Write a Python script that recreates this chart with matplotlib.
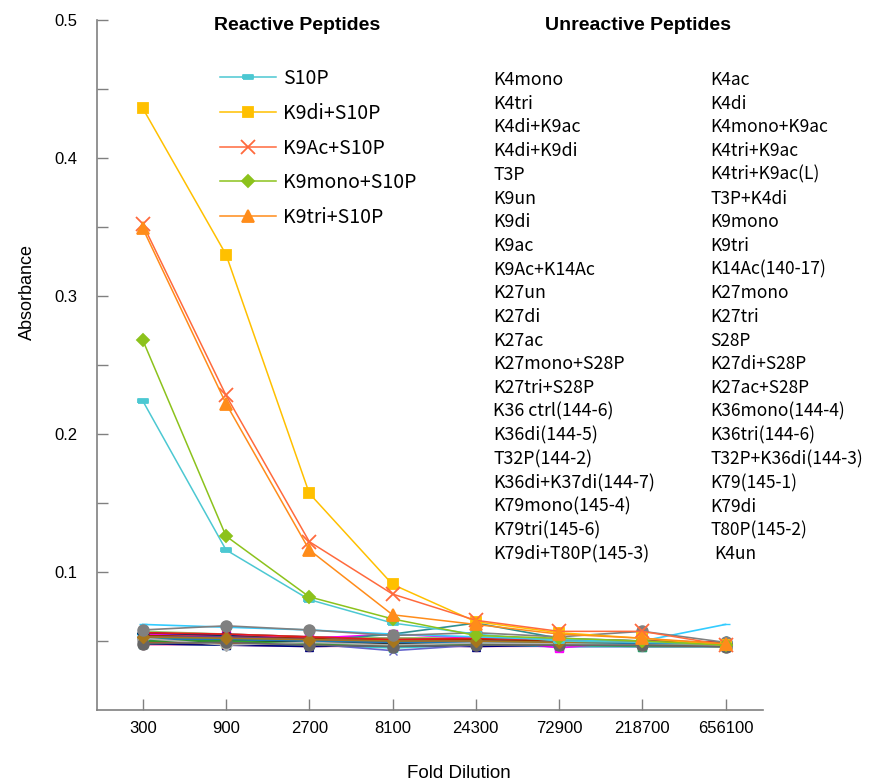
import matplotlib
matplotlib.use("Agg")
import matplotlib.pyplot as plt

# ---------------- data ----------------
dilutions = ["300", "900", "2700", "8100", "24300", "72900", "218700", "656100"]

reactive_names = ["S10P", "K9di+S10P", "K9Ac+S10P", "K9mono+S10P", "K9tri+S10P"]
s10p = [0.224, 0.116, 0.080, 0.063, 0.055, 0.050, 0.049, 0.048]
k9di_s10p = [0.436, 0.330, 0.157, 0.091, 0.064, 0.056, 0.052, 0.047]
k9ac_s10p = [0.352, 0.228, 0.122, 0.084, 0.065, 0.057, 0.057, 0.047]
k9mono_s10p = [0.268, 0.126, 0.082, 0.066, 0.054, 0.052, 0.050, 0.047]
k9tri_s10p = [0.349, 0.222, 0.116, 0.069, 0.062, 0.055, 0.052, 0.048]
reactive_values = [s10p, k9di_s10p, k9ac_s10p, k9mono_s10p, k9tri_s10p]

unreactive_col1 = ["K4mono", "K4tri", "K4di+K9ac", "K4di+K9di", "T3P", "K9un", "K9di", "K9ac",
                   "K9Ac+K14Ac", "K27un", "K27di", "K27ac", "K27mono+S28P", "K27tri+S28P",
                   "K36 ctrl(144-6)", "K36di(144-5)", "T32P(144-2)", "K36di+K37di(144-7)",
                   "K79mono(145-4)", "K79tri(145-6)", "K79di+T80P(145-3)"]
unreactive_col2 = ["K4ac", "K4di", "K4mono+K9ac", "K4tri+K9ac", "K4tri+K9ac(L)", "T3P+K4di",
                   "K9mono", "K9tri", "K14Ac(140-17)", "K27mono", "K27tri", "S28P", "K27di+S28P",
                   "K27ac+S28P", "K36mono(144-4)", "K36tri(144-6)", "T32P+K36di(144-3)",
                   "K79(145-1)", "K79di", "T80P(145-2)", "K4un"]

unreactive_values_col1 = [
    [0.052, 0.051, 0.050, 0.049, 0.050, 0.049, 0.048, 0.048],
    [0.050, 0.049, 0.048, 0.047, 0.049, 0.048, 0.047, 0.047],
    [0.054, 0.053, 0.051, 0.050, 0.051, 0.050, 0.049, 0.048],
    [0.049, 0.048, 0.047, 0.046, 0.048, 0.047, 0.047, 0.046],
    [0.056, 0.055, 0.053, 0.052, 0.052, 0.051, 0.050, 0.049],
    [0.051, 0.050, 0.049, 0.048, 0.049, 0.048, 0.048, 0.047],
    [0.053, 0.052, 0.050, 0.049, 0.050, 0.049, 0.049, 0.048],
    [0.048, 0.048, 0.047, 0.047, 0.047, 0.046, 0.046, 0.046],
    [0.055, 0.054, 0.052, 0.051, 0.051, 0.050, 0.049, 0.049],
    [0.050, 0.050, 0.049, 0.048, 0.048, 0.048, 0.047, 0.047],
    [0.057, 0.055, 0.053, 0.052, 0.053, 0.051, 0.050, 0.049],
    [0.049, 0.049, 0.048, 0.046, 0.047, 0.047, 0.047, 0.046],
    [0.053, 0.052, 0.051, 0.050, 0.050, 0.049, 0.048, 0.048],
    [0.047, 0.047, 0.046, 0.046, 0.046, 0.046, 0.046, 0.046],
    [0.055, 0.053, 0.052, 0.050, 0.051, 0.050, 0.050, 0.049],
    [0.051, 0.051, 0.050, 0.049, 0.049, 0.049, 0.048, 0.048],
    [0.052, 0.052, 0.049, 0.048, 0.050, 0.048, 0.048, 0.047],
    [0.048, 0.047, 0.047, 0.045, 0.047, 0.046, 0.046, 0.046],
    [0.054, 0.052, 0.051, 0.049, 0.050, 0.050, 0.049, 0.048],
    [0.050, 0.049, 0.048, 0.048, 0.048, 0.047, 0.047, 0.047],
    [0.049, 0.050, 0.049, 0.047, 0.048, 0.048, 0.047, 0.047],
]
unreactive_values_col2 = [
    [0.055, 0.054, 0.052, 0.055, 0.052, 0.045, 0.050, 0.048],
    [0.053, 0.051, 0.050, 0.048, 0.049, 0.049, 0.048, 0.047],
    [0.051, 0.052, 0.050, 0.049, 0.050, 0.049, 0.048, 0.048],
    [0.056, 0.054, 0.051, 0.050, 0.050, 0.050, 0.049, 0.048],
    [0.048, 0.048, 0.047, 0.047, 0.047, 0.047, 0.046, 0.046],
    [0.052, 0.050, 0.049, 0.048, 0.049, 0.048, 0.048, 0.047],
    [0.048, 0.047, 0.046, 0.047, 0.046, 0.047, 0.048, 0.047],
    [0.054, 0.053, 0.052, 0.051, 0.051, 0.050, 0.049, 0.049],
    [0.050, 0.049, 0.048, 0.043, 0.047, 0.048, 0.047, 0.047],
    [0.052, 0.052, 0.050, 0.055, 0.063, 0.052, 0.050, 0.048],
    [0.050, 0.049, 0.049, 0.048, 0.049, 0.048, 0.047, 0.047],
    [0.053, 0.053, 0.051, 0.050, 0.050, 0.049, 0.049, 0.048],
    [0.049, 0.048, 0.048, 0.047, 0.048, 0.047, 0.047, 0.046],
    [0.051, 0.051, 0.050, 0.049, 0.049, 0.049, 0.048, 0.048],
    [0.056, 0.055, 0.053, 0.051, 0.052, 0.051, 0.050, 0.049],
    [0.050, 0.050, 0.048, 0.047, 0.048, 0.048, 0.047, 0.047],
    [0.052, 0.047, 0.049, 0.047, 0.0486, 0.048, 0.047, 0.047],
    [0.062, 0.060, 0.058, 0.055, 0.053, 0.051, 0.050, 0.062],
    [0.048, 0.049, 0.047, 0.046, 0.047, 0.047, 0.047, 0.046],
    [0.053, 0.052, 0.051, 0.050, 0.050, 0.049, 0.050, 0.048],
    [0.058, 0.061, 0.058, 0.054, 0.056, 0.053, 0.057, 0.049],
]

y_tick_values = [0.1, 0.2, 0.3, 0.4, 0.5]
y_minor_values = [0.05, 0.15, 0.25, 0.35, 0.45]

# ---------------- styles ----------------
reactive_colors = ["#4cc8d2", "#ffc000", "#ff6a3d", "#8cc21c", "#ff8c1a"]
rect_marker = [(-1, -0.4), (1, -0.4), (1, 0.4), (-1, 0.4), (-1, -0.4)]
reactive_markers = [rect_marker, "s", "x", "D", "^"]
reactive_msizes = [7, 7, 10, 6, 8]

cluster_colors = ["#000080", "#8b1a4a", "#c8c800", "#00c8c8", "#800080", "#800000", "#008080",
                  "#0000ff", "#00ccff", "#66cc99", "#99cc66", "#cc9933", "#99ccff", "#ff99cc",
                  "#cc99ff", "#cc9966", "#3366ff", "#33cccc", "#99cc00", "#e6b800", "#ff9900",
                  "#ff00ff", "#666699", "#969696", "#003366", "#339966", "#003300", "#000080",
                  "#993300", "#6666cc", "#2f8f8f", "#333333", "#6a3d9a", "#b15928", "#1f78b4",
                  "#e31a1c", "#33a02c", "#b0b0b0", "#33ccff", "#666666", "#a6761d", "#808080"]
cluster_markers = ["D", "s", "^", "x", "*", "o", "+", "_",
                   "D", "s", "^", "x", "*", "o", "+", "_",
                   "D", "s", "^", "x", "*", "s", "+", "o",
                   "D", "s", "^", "^", "*", "x", "+", "_",
                   "D", "s", "^", "x", "*", "D", "_", "o",
                   "D", "o"]

# ---------------- figure ----------------
plt.rcParams['font.family'] = ['Liberation Sans', 'DejaVu Sans']
fig = plt.figure(figsize=(8.71, 7.83), dpi=100)
ax = fig.add_axes([97 / 871, 1 - 710 / 783, 666 / 871, 690 / 783])

xpos = list(range(len(dilutions)))
all_unreactive = unreactive_values_col1 + unreactive_values_col2
for i, vals in enumerate(all_unreactive):
    m = cluster_markers[i]
    c = cluster_colors[i]
    ms = 8 if c in ("#808080", "#969696", "#666666") else 6
    ax.plot(xpos, vals, color=c, marker=m, markersize=ms, linewidth=1.2, zorder=2)

handles = []
for name, vals, c, m, ms in zip(reactive_names, reactive_values, reactive_colors,
                                reactive_markers, reactive_msizes):
    ln, = ax.plot(xpos, vals, color=c, marker=m, markersize=ms, linewidth=1.1,
                  markeredgewidth=1.3, label=name, zorder=3)
    handles.append(ln)

ax.set_xlim(-0.55, 7.45)
ax.set_ylim(0, 0.5)
ax.set_xticks(xpos)
ax.set_xticklabels(dilutions, fontsize=12)
ax.set_yticks(y_tick_values)
ax.set_yticklabels([f"{v:.1f}" for v in y_tick_values], fontsize=12)
ax.set_yticks(y_minor_values, minor=True)

for s in ["top", "right"]:
    ax.spines[s].set_visible(False)
for s in ["left", "bottom"]:
    ax.spines[s].set_color("#808080")
    ax.spines[s].set_linewidth(1.2)
ax.tick_params(axis="both", which="both", direction="in", length=8, color="#808080", width=1)
ax.tick_params(axis="y", which="major", pad=14)
ax.tick_params(axis="x", pad=8)

fig.text(27 / 871, 1 - 292 / 783, "Absorbance", rotation=90, fontsize=13, ha="center", va="center")
fig.text(459 / 871, 1 - 773 / 783, "Fold Dilution", fontsize=13.5, ha="center", va="center")

fig.text(297 / 871, 1 - 25 / 783, "Reactive Peptides", fontsize=14, fontweight="bold",
         ha="center", va="center")
fig.text(638 / 871, 1 - 25 / 783, "Unreactive Peptides", fontsize=14, fontweight="bold",
         ha="center", va="center")

list_font = ['Noto Sans CJK JP', 'DejaVu Sans']
row_step = 23.7
for k, name in enumerate(unreactive_col1):
    fig.text(493 / 871, 1 - (80 + k * row_step) / 783, name, fontsize=12.8, family=list_font,
             ha="left", va="center")
for k, name in enumerate(unreactive_col2):
    xx = 714 if name == "K4un" else 710
    fig.text(xx / 871, 1 - (80 + k * row_step) / 783, name, fontsize=12.5, family=list_font,
             ha="left", va="center")

leg = ax.legend(handles=handles, loc="upper left", bbox_to_anchor=(0.185, 0.93),
                frameon=False, borderpad=0, borderaxespad=0, handlelength=2.85,
                handletextpad=0.4, labelspacing=0.7, numpoints=1,
                prop={"family": list_font, "size": 14})

fig.savefig("out.png", dpi=100)
